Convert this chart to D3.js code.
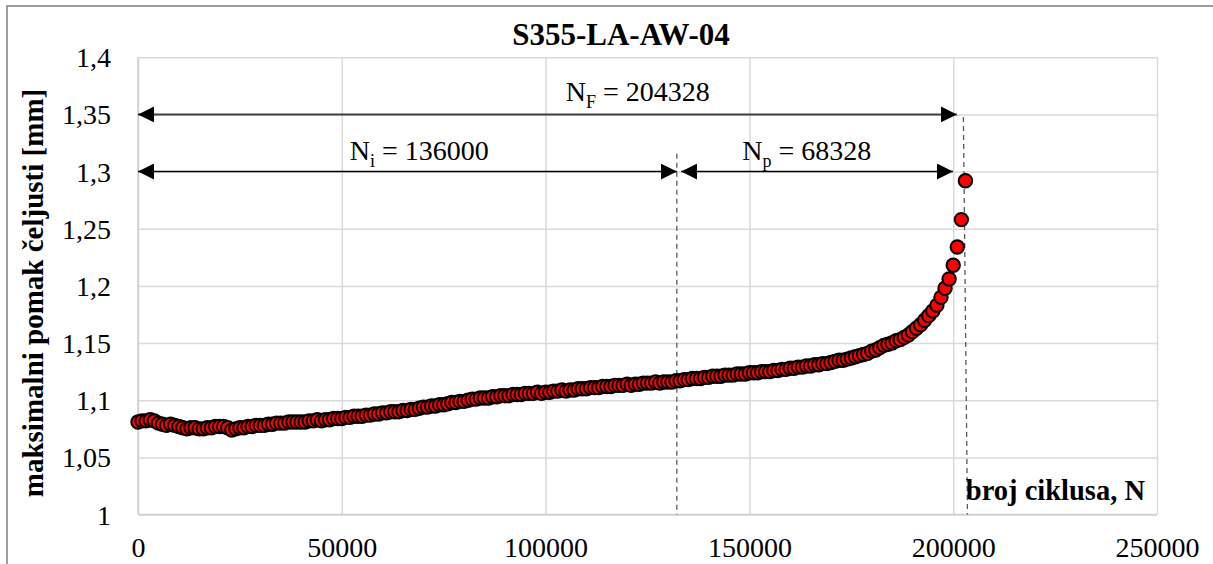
<!DOCTYPE html>
<html>
<head>
<meta charset="utf-8">
<script src="https://cdn.jsdelivr.net/npm/d3@7"></script>
<style>
  html, body { margin: 0; padding: 0; background: #ffffff; }
  svg { display: block; }
  text { font-family: "Liberation Serif", "Times New Roman", serif; fill: #000; }
</style>
</head>
<body>
<svg id="chart" width="1213" height="564"></svg>
<script>
// ---------------- DATA ----------------
const chartTitle = "S355-LA-AW-04";
const yAxisTitle = "maksimalni pomak čeljusti [mm]";
const xAxisTitle = "broj ciklusa, N";

// number of cycles (in thousands) of each recorded point
const cyclesK = [
  0,1,2,3,4,5,6,7,8,9,10,
  11,12,13,14,15,16,17,18,19,20,
  21,22,23,24,25,26,27,28,29,30,
  31,32,33,34,35,36,37,38,39,40,
  41,42,43,44,45,46,47,48,49,50,
  51,52,53,54,55,56,57,58,59,60,
  61,62,63,64,65,66,67,68,69,70,
  71,72,73,74,75,76,77,78,79,80,
  81,82,83,84,85,86,87,88,89,90,
  91,92,93,94,95,96,97,98,99,100,
  101,102,103,104,105,106,107,108,109,110,
  111,112,113,114,115,116,117,118,119,120,
  121,122,123,124,125,126,127,128,129,130,
  131,132,133,134,135,136,137,138,139,140,
  141,142,143,144,145,146,147,148,149,150,
  151,152,153,154,155,156,157,158,159,160,
  161,162,163,164,165,166,167,168,169,170,
  171,172,173,174,175,176,177,178,179,180,
  181,182,183,184,185,186,187,188,189,190,
  191,192,193,194,195,196,197,198,199,200,201,202,203
];
// maximum jaw displacement [mm]
const displacement = [
  1.081,1.082,1.082,1.083,1.082,1.080,1.079,1.078,1.079,1.078,1.077,
  1.076,1.075,1.076,1.076,1.075,1.075,1.076,1.076,1.077,1.077,
  1.077,1.076,1.074,1.075,1.076,1.076,1.077,1.077,1.078,1.078,
  1.078,1.079,1.079,1.080,1.080,1.080,1.081,1.081,1.081,1.081,
  1.081,1.082,1.082,1.083,1.082,1.083,1.083,1.084,1.084,1.084,
  1.085,1.085,1.086,1.086,1.086,1.087,1.087,1.088,1.088,1.089,
  1.089,1.090,1.090,1.090,1.091,1.091,1.092,1.092,1.093,1.094,
  1.094,1.095,1.095,1.096,1.096,1.097,1.098,1.098,1.099,1.099,
  1.100,1.101,1.101,1.102,1.102,1.102,1.103,1.103,1.104,1.104,
  1.104,1.105,1.105,1.105,1.106,1.106,1.106,1.107,1.106,1.107,
  1.107,1.108,1.108,1.109,1.108,1.109,1.109,1.110,1.110,1.110,
  1.111,1.111,1.111,1.112,1.112,1.112,1.113,1.113,1.113,1.114,
  1.113,1.114,1.114,1.115,1.115,1.115,1.116,1.115,1.116,1.116,
  1.116,1.117,1.117,1.118,1.118,1.119,1.119,1.119,1.120,1.120,
  1.121,1.121,1.121,1.122,1.122,1.122,1.123,1.123,1.123,1.124,
  1.124,1.124,1.125,1.125,1.125,1.126,1.126,1.127,1.127,1.128,
  1.128,1.129,1.129,1.130,1.130,1.131,1.131,1.132,1.132,1.133,
  1.134,1.135,1.135,1.136,1.137,1.138,1.139,1.140,1.141,1.143,
  1.144,1.146,1.148,1.149,1.150,1.152,1.153,1.155,1.157,1.160,
  1.163,1.166,1.170,1.174,1.178,1.183,1.190,1.198,1.206,1.218,1.234,1.258,1.292
];

const xTickValues = [0, 50000, 100000, 150000, 200000, 250000];
const xTickLabels = ["0", "50000", "100000", "150000", "200000", "250000"];
const yTickValues = [1, 1.05, 1.1, 1.15, 1.2, 1.25, 1.3, 1.35, 1.4];
const yTickLabels = ["1", "1,05", "1,1", "1,15", "1,2", "1,25", "1,3", "1,35", "1,4"];

// annotation arrows: [x1, x2, y] in data units
const arrowNF = [0, 200900, 1.35];
const arrowNi = [0, 132200, 1.30];
const arrowNp = [133250, 199950, 1.30];
// dashed markers: [xTop, yTop, xBottom, yBottom]
const dashNi = [132200, 1.3155, 132200, 1.0];
const dashNF = [202500, 1.3477, 203500, 1.0];
// labels: [main, subscript, rest, x, y]
const labelNF = ["N", "F", " = 204328", 122600, 1.3617];
const labelNi = ["N", "i", " = 136000", 69000, 1.3101];
const labelNp = ["N", "p", " = 68328", 164100, 1.3101];

// ---------------- LAYOUT ----------------
const margin = { left: 138, top: 57.2, right: 56, bottom: 49.4 };
const W = 1213, H = 564;
const innerW = W - margin.left - margin.right;   // 1019
const innerH = H - margin.top - margin.bottom;   // 457.4

const svg = d3.select("#chart");
svg.append("rect").attr("width", W).attr("height", H).attr("fill", "#fff");
// outer chart border
svg.append("rect").attr("x", 7).attr("y", 6).attr("width", 1240).attr("height", 600)
  .attr("fill", "none").attr("stroke", "#7f7f7f").attr("stroke-width", 1.5);

const x = d3.scaleLinear().domain([0, 250000]).range([0, innerW]);
const y = d3.scaleLinear().domain([1, 1.4]).range([innerH, 0]);

const g = svg.append("g").attr("transform", `translate(${margin.left},${margin.top})`);

// y grid + labels
const yAxis = g.append("g")
  .call(d3.axisLeft(y).tickValues(yTickValues).tickSize(-innerW).tickPadding(27)
    .tickFormat((d, i) => yTickLabels[i]));
yAxis.select(".domain").remove();
yAxis.selectAll("line").attr("stroke", "#d9d9d9").attr("stroke-width", 1.5);
yAxis.selectAll("text").style("font-size", "28px").attr("dy", "0.34em")
  .style("font-family", '"Liberation Serif", "Times New Roman", serif');

// x grid + labels
const xAxis = g.append("g").attr("transform", `translate(0,${innerH})`)
  .call(d3.axisBottom(x).tickValues(xTickValues).tickSize(-innerH).tickPadding(23)
    .tickFormat((d, i) => xTickLabels[i]));
xAxis.select(".domain").remove();
xAxis.selectAll("line").attr("stroke", "#d9d9d9").attr("stroke-width", 1.5);
xAxis.selectAll("text").style("font-size", "28px")
  .style("font-family", '"Liberation Serif", "Times New Roman", serif');

// axis lines slightly darker
g.append("line").attr("x1", 0).attr("x2", 0).attr("y1", 0).attr("y2", innerH)
  .attr("stroke", "#cfcfcf").attr("stroke-width", 1.5);
g.append("line").attr("x1", 0).attr("x2", innerW).attr("y1", innerH).attr("y2", innerH)
  .attr("stroke", "#cfcfcf").attr("stroke-width", 1.5);

// dashed vertical markers
[dashNi, dashNF].forEach(d => {
  g.append("line")
    .attr("x1", x(d[0])).attr("y1", y(d[1]))
    .attr("x2", x(d[2])).attr("y2", y(d[3]))
    .attr("stroke", "#595959").attr("stroke-width", 1.3)
    .attr("stroke-dasharray", "5,4");
});

// arrow markers
const defs = svg.append("defs");
function mk(id, color) {
  defs.append("marker").attr("id", id)
    .attr("viewBox", "0 0 16 16").attr("refX", 16).attr("refY", 8)
    .attr("markerWidth", 16).attr("markerHeight", 16)
    .attr("markerUnits", "userSpaceOnUse").attr("orient", "auto-start-reverse")
    .append("path").attr("d", "M0,0 L16,8 L0,16 Z").attr("fill", color);
}
mk("arrDark", "#000000");
mk("arrBlack", "#000000");

function arrow(a, color, id, w) {
  g.append("line")
    .attr("x1", x(a[0])).attr("x2", x(a[1]))
    .attr("y1", y(a[2])).attr("y2", y(a[2]))
    .attr("stroke", color).attr("stroke-width", w)
    .attr("marker-start", `url(#${id})`).attr("marker-end", `url(#${id})`);
}
arrow(arrowNF, "#404040", "arrDark", 2);
arrow(arrowNi, "#000000", "arrBlack", 1.5);
arrow(arrowNp, "#000000", "arrBlack", 1.5);

// labels
function label(L) {
  const t = g.append("text").attr("x", x(L[3])).attr("y", y(L[4]))
    .attr("text-anchor", "middle").style("font-size", "28px");
  t.append("tspan").text(L[0]);
  t.append("tspan").attr("dy", 7).style("font-size", "18px").text(L[1]);
  t.append("tspan").attr("dy", -7).text(L[2]);
}
label(labelNF);
label(labelNi);
label(labelNp);

// data points
const pts = cyclesK.map((c, i) => ({ n: c * 1000, v: displacement[i] }));
g.append("g").selectAll("circle").data(pts).enter().append("circle")
  .attr("cx", d => x(d.n)).attr("cy", d => y(d.v)).attr("r", 6.7)
  .attr("fill", "#ff0000").attr("stroke", "#000").attr("stroke-width", 2);

// title
svg.append("text").attr("x", 621).attr("y", 45).attr("text-anchor", "middle")
  .style("font-size", "31px").style("font-weight", "bold").text(chartTitle);

// y-axis title
svg.append("text").attr("transform", "translate(43,293) rotate(-90)")
  .attr("text-anchor", "middle").style("font-size", "29px").style("font-weight", "bold")
  .text(yAxisTitle);

// x-axis title (inside plot, bottom right)
svg.append("text").attr("x", 1145).attr("y", 500).attr("text-anchor", "end")
  .style("font-size", "28.5px").style("font-weight", "bold").text(xAxisTitle);
</script>
</body>
</html>
